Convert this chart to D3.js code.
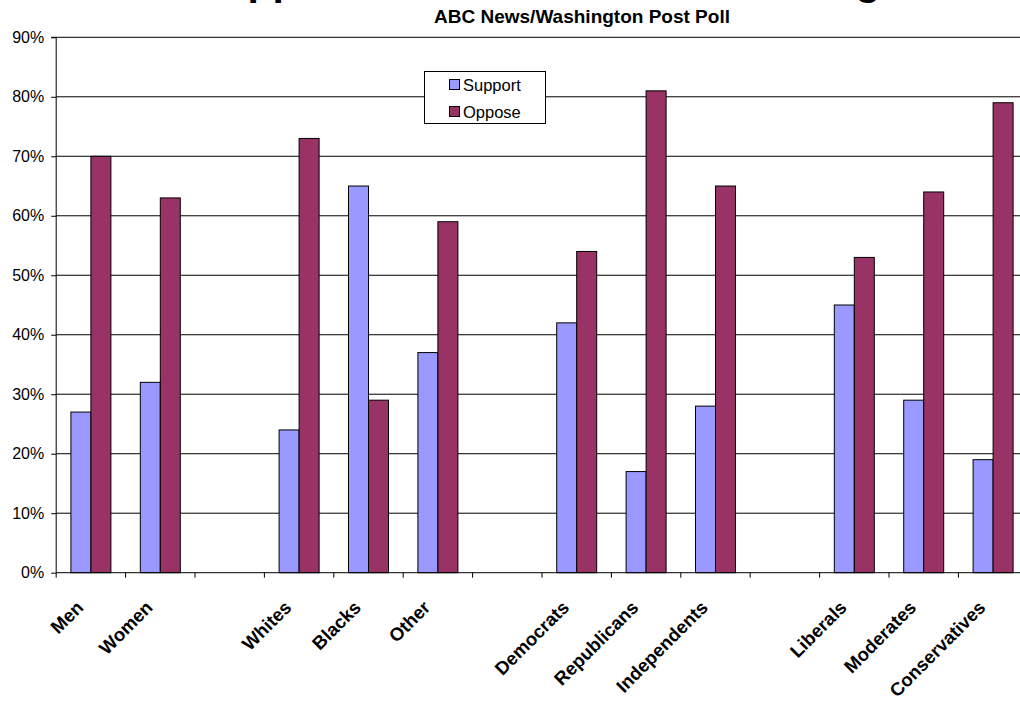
<!DOCTYPE html>
<html>
<head>
<meta charset="utf-8">
<script src="https://cdn.jsdelivr.net/npm/d3@7"></script>
<style>
  html, body { margin: 0; padding: 0; background: #fff; }
  svg { display: block; font-family: "Liberation Sans", Arial, sans-serif; }
</style>
</head>
<body>
<svg id="chart" width="1020" height="702"></svg>
<script>
// ---- data ----
const categories = ["Men", "Women", "", "Whites", "Blacks", "Other", "", "Democrats", "Republicans", "Independents", "", "Liberals", "Moderates", "Conservatives"];
const supportValues = [27, 32, null, 24, 65, 37, null, 42, 17, 28, null, 45, 29, 19];
const opposeValues  = [70, 63, null, 73, 29, 59, null, 54, 81, 65, null, 53, 64, 79];
const seriesNames = ["Support", "Oppose"];
const yTickValues = [0, 10, 20, 30, 40, 50, 60, 70, 80, 90];
const titleText = "Support for Race-Conscious Hiring";
const subtitleText = "ABC News/Washington Post Poll";

const colors = ["#9999FF", "#993366"];

const svg = d3.select("#chart");

const x0 = 56.2, slot = 69.4, yTop = 37.3, yBase = 572.7;
const x = d3.scaleBand().domain(d3.range(categories.length))
  .range([x0, x0 + slot * categories.length]).paddingInner(0).paddingOuter(0);
const barW = 20;
const y = d3.scaleLinear().domain([0, 90]).range([yBase, yTop]);

// title (mostly cut off at top)
svg.append("text").attr("x", 195).attr("y", -5.5)
  .attr("font-size", 41).attr("font-weight", "bold").attr("fill", "#000")
  .text(titleText);
svg.append("text").attr("x", 582).attr("y", 23)
  .attr("text-anchor", "middle").attr("font-size", 19).attr("font-weight", "bold")
  .text(subtitleText);

// gridlines
svg.append("g").selectAll("line").data(yTickValues.filter(v => v > 0)).join("line")
  .attr("x1", x0).attr("x2", 1020)
  .attr("y1", d => y(d)).attr("y2", d => y(d))
  .attr("stroke", "#000").attr("stroke-width", 1);

// bars
const groups = [supportValues, opposeValues];
groups.forEach((vals, si) => {
  svg.append("g").selectAll("rect")
    .data(vals.map((v, i) => ({ v, i })).filter(d => d.v !== null))
    .join("rect")
    .attr("x", d => x(d.i) + x.bandwidth() / 2 - barW + si * barW)
    .attr("y", d => y(d.v))
    .attr("width", barW)
    .attr("height", d => y(0) - y(d.v))
    .attr("fill", colors[si])
    .attr("stroke", "#000").attr("stroke-width", 1);
});

// y axis
const yAxis = d3.axisLeft(y).tickValues(yTickValues).tickSize(5).tickPadding(7)
  .tickFormat(d => d + "%");
const yg = svg.append("g").attr("transform", `translate(${x0},0)`).call(yAxis);
yg.select(".domain").attr("stroke", "#000").attr("d", `M-5,${yTop}H0V${yBase}`);
yg.selectAll(".tick line").attr("stroke", "#000");
yg.selectAll(".tick text").attr("font-size", 16).attr("font-family", "Liberation Sans, Arial, sans-serif").attr("fill", "#000");

// x axis
const boundaries = d3.range(categories.length + 1).map(i => x0 + i * slot);
svg.append("line").attr("x1", x0).attr("x2", 1020).attr("y1", yBase).attr("y2", yBase).attr("stroke", "#000");
svg.append("g").selectAll("line").data(boundaries).join("line")
  .attr("x1", d => d).attr("x2", d => d).attr("y1", yBase).attr("y2", yBase + 5)
  .attr("stroke", "#000");
svg.append("g").selectAll("text").data(categories.map((c, i) => ({ c, i })).filter(d => d.c))
  .join("text")
  .attr("transform", d => `translate(${x(d.i) + x.bandwidth() / 2 - 6.5},${yBase + 36}) rotate(-45)`)
  .attr("text-anchor", "end").attr("font-size", 18.5).attr("font-weight", "bold")
  .text(d => d.c);

// legend
const lg = svg.append("g");
lg.append("rect").attr("x", 424.5).attr("y", 71.5).attr("width", 121).attr("height", 52)
  .attr("fill", "#fff").attr("stroke", "#000");
seriesNames.forEach((n, i) => {
  lg.append("rect").attr("x", 449.5).attr("y", 79.5 + i * 27).attr("width", 10).attr("height", 10)
    .attr("fill", colors[i]).attr("stroke", "#000");
  lg.append("text").attr("x", 463).attr("y", 90.5 + i * 27).attr("font-size", 16.5).text(n);
});
</script>
</body>
</html>
